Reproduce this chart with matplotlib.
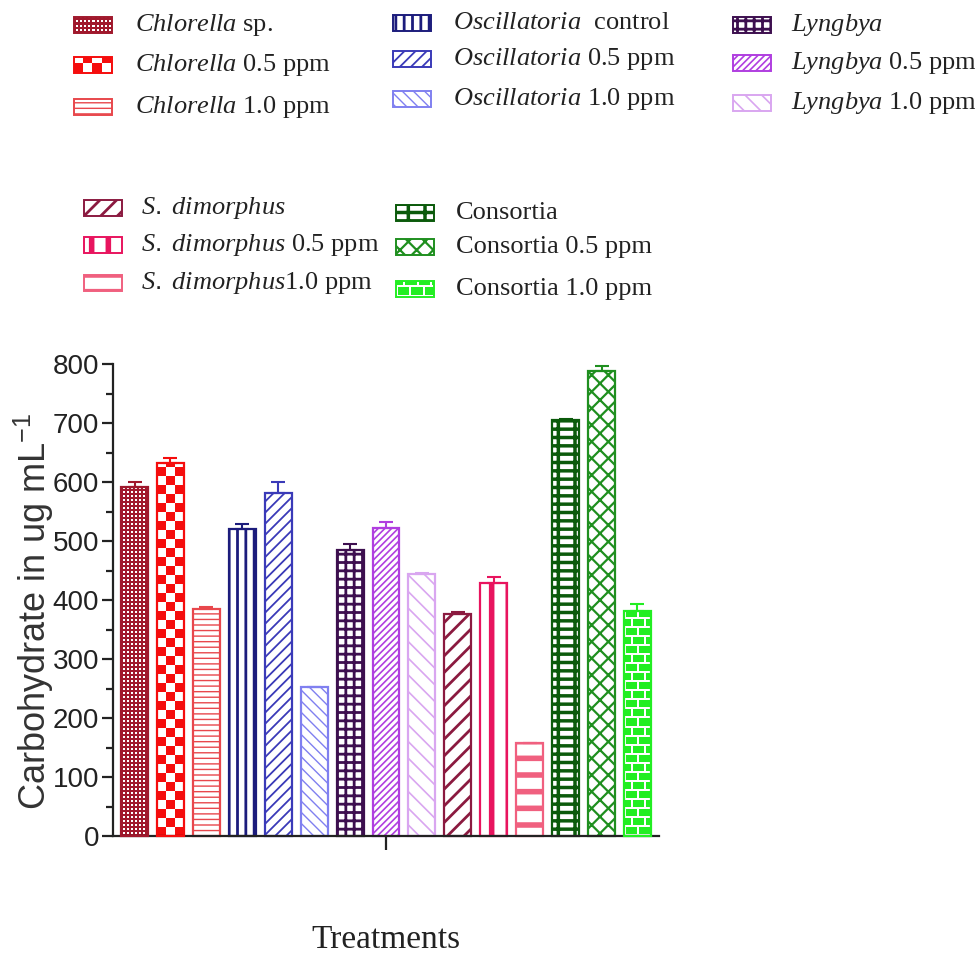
import numpy as np
import matplotlib
matplotlib.use("Agg")
import matplotlib.pyplot as plt
from matplotlib import font_manager
from matplotlib.colors import to_rgb

# ---- data -------------------------------------------------------------
labels = [
    r"$\it{Chlorella}$ sp.", r"$\it{Chlorella}$ 0.5 ppm", r"$\it{Chlorella}$ 1.0 ppm",
    r"$\it{Oscillatoria}$  control", r"$\it{Oscillatoria}$ 0.5 ppm", r"$\it{Oscillatoria}$ 1.0 ppm",
    r"$\it{Lyngbya}$", r"$\it{Lyngbya}$ 0.5 ppm", r"$\it{Lyngbya}$ 1.0 ppm",
    r"$\it{S.\ dimorphus}$", r"$\it{S.\ dimorphus}$ 0.5 ppm", r"$\it{S.\ dimorphus}$1.0 ppm",
    "Consortia", "Consortia 0.5 ppm", "Consortia 1.0 ppm",
]
carbohydrate = [592, 632, 385, 521, 582, 252, 485, 522, 444, 377, 428, 157, 705, 788, 382]
sd = [8, 8, 3, 8, 18, 1, 10, 10, 2, 3, 11, 1, 2, 8, 12]
y_ticks = [0, 100, 200, 300, 400, 500, 600, 700, 800]

# ---- styles -----------------------------------------------------------
styles = [
    dict(color="#a0182c", texture=("grid", 4, 2)),
    dict(color="#f50d0d", texture=("checker", 9)),
    dict(color="#e8474c", hatch="---", hlw=1.0),
    dict(color="#1c1c7c", hatch="||", hlw=2.0),
    dict(color="#3a3ab8", hatch="///", hlw=1.3),
    dict(color="#8080f0", hatch="\\\\\\", hlw=1.0),
    dict(color="#3d0f4f", hatch="++", hlw=2.0),
    dict(color="#b03ee0", hatch="/////", hlw=1.2),
    dict(color="#d9a6f0", hatch="\\\\", hlw=1.2),
    dict(color="#8b1a40", hatch="//", hlw=2.0),
    dict(color="#e8145e", hatch="|", hlw=4.0),
    dict(color="#f0607f", hatch="-", hlw=4.0),
    dict(color="#0b5a0b", hatch="|--", hlw=2.5),
    dict(color="#1f8f1f", hatch="xx", hlw=1.6),
    dict(color="#22ee22", texture=("bricks", 13, 9, 2)),
]

def has_font(name):
    try:
        font_manager.findfont(name, fallback_to_default=False)
        return True
    except Exception:
        return False

tick_font = "Liberation Sans Narrow" if has_font("Liberation Sans Narrow") else "Liberation Sans"

plt.rcParams["mathtext.fontset"] = "custom"
plt.rcParams["mathtext.it"] = "Liberation Serif:italic"
plt.rcParams["mathtext.rm"] = "Liberation Sans"
plt.rcParams["mathtext.default"] = "regular"


def add_texture(ax, patch, kind, color):
    bb = patch.get_window_extent()
    W = max(1, int(round(bb.width)))
    H = max(1, int(round(bb.height)))
    jj, ii = np.meshgrid(np.arange(W), np.arange(H))
    if kind[0] == "checker":
        c = kind[1]
        on = ((ii // c + jj // c) % 2 == 0)
    elif kind[0] == "grid":
        p, w = kind[1], kind[2]
        on = (ii % p < w) | (jj % p < w)
    else:
        bw, bh, m = kind[1], kind[2], kind[3]
        row = ii // bh
        shift = (row % 2) * (bw // 2)
        on = ~((ii % bh < m) | ((jj + shift) % bw < m))
    img = np.ones((H, W, 3))
    img[on] = np.array(to_rgb(color))
    x0, y0 = patch.get_x(), patch.get_y()
    im = ax.imshow(img, extent=(x0, x0 + patch.get_width(), y0, y0 + patch.get_height()),
                   origin="lower", interpolation="nearest", aspect="auto", zorder=2)
    im.set_clip_path(patch)


def draw_bar(ax, x, h, width, st, lw=1.6):
    col = st["color"]
    if "texture" in st:
        base = ax.bar(x, h, width, color="white", edgecolor="none", zorder=1)[0]
        add_texture(ax, base, st["texture"], col)
        ax.bar(x, h, width, facecolor="none", edgecolor=col, linewidth=lw, zorder=3, clip_on=False)
    else:
        b = ax.bar(x, h, width, facecolor="white", edgecolor=col, linewidth=lw,
                   hatch=st["hatch"], zorder=1, clip_on=False)[0]
        if hasattr(b, "set_hatch_linewidth"):
            b.set_hatch_linewidth(st["hlw"])


fig = plt.figure(figsize=(9.75, 9.6), dpi=100)
ax = fig.add_axes([113 / 975, 1 - 836 / 960, 546 / 975, 472 / 960])
ax.set_xlim(-0.6, 14.6)
ax.set_ylim(0, 800)

x = np.arange(len(carbohydrate))
for i in x:
    draw_bar(ax, i, carbohydrate[i], 0.75, styles[i])
    ax.errorbar(i, carbohydrate[i], yerr=[[0], [sd[i]]], fmt="none", ecolor=styles[i]["color"],
                elinewidth=1.5, capsize=5, capthick=1.5, zorder=4, clip_on=False)

ax.set_xlim(-0.6, 14.6)
ax.set_ylim(0, 800)

for s in ["top", "right"]:
    ax.spines[s].set_visible(False)
for s in ["left", "bottom"]:
    ax.spines[s].set_linewidth(1.6)
    ax.spines[s].set_color("#222222")

ax.set_yticks(y_ticks)
ax.set_yticks(np.arange(50, 800, 100), minor=True)
ax.tick_params(axis="y", which="major", length=8, width=1.6, labelsize=20, pad=2, colors="#222222")
ax.tick_params(axis="y", which="minor", length=5, width=1.6, colors="#222222")
for t in ax.get_yticklabels():
    t.set_fontfamily(tick_font)
ax.set_xticks([(len(carbohydrate) - 1) / 2])
ax.set_xticklabels([""])
ax.tick_params(axis="x", length=10, width=1.6, colors="#222222")

ax.set_ylabel(r"Carbohydrate in ug mL$^{-1}$", fontsize=26, family="Liberation Sans", color="#333333")
ax.yaxis.set_label_coords(-0.104, 0.475)

fig.text(386 / 975, 1 - 940 / 960, "Treatments", fontsize=24, family="Liberation Serif",
         ha="center", va="center", color="#222222")

# ---- legend blocks ----------------------------------------------------
key_w, key_h = 40 / 975, 19 / 960
blocks = [
    (73, 135, [25, 65, 107]),
    (392, 453, [23, 59, 99]),
    (732, 791, [25, 63, 103]),
    (83, 141, [208, 245, 283]),
    (395, 456, [213, 247, 289]),
]
for b, (kx, tx, rows) in enumerate(blocks):
    for r, yc in enumerate(rows):
        i = b * 3 + r
        kax = fig.add_axes([kx / 975, 1 - (yc + 9.5) / 960, key_w, key_h])
        kax.set_xlim(-0.04, 1.04)
        kax.set_ylim(-0.08, 1.08)
        kax.axis("off")
        draw_bar(kax, 0.5, 1.0, 1.0, styles[i], lw=1.4)
        kax.set_xlim(-0.04, 1.04)
        kax.set_ylim(-0.08, 1.08)
        fig.text(tx / 975, 1 - yc / 960, labels[i], fontsize=19, family="Liberation Serif",
                 ha="left", va="center", color="#222222")

fig.savefig("out.png", dpi=100)
